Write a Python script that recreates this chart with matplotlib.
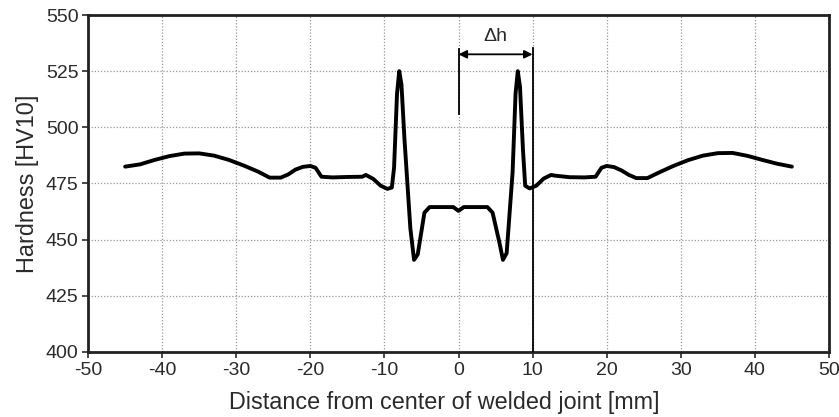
import matplotlib
matplotlib.use("Agg")
import matplotlib.pyplot as plt

plt.rcParams['font.family'] = ['Liberation Sans', 'DejaVu Sans']
plt.rcParams['axes.unicode_minus'] = False

# Hardness profile across welded joint
distance_mm = [-45, -43, -41, -39, -37, -35, -33, -31, -29, -27, -25.5, -24, -23, -22, -21, -20,
               -19.3, -18.5, -17, -15, -13, -12.5, -11.5, -10.5, -9.6, -9.0, -8.7, -8.3, -8.0,
               -7.7, -7.3, -6.5, -6.0, -5.5, -4.6, -3.9, -2.0, -0.7, 0.0,
               0.7, 2.0, 3.9, 4.6, 5.5, 6.0, 6.5, 7.3, 7.7, 8.0, 8.3, 8.7, 9.0, 9.6,
               10.5, 11.5, 12.5, 13, 15, 17, 18.5, 19.3, 20, 21, 22, 23, 24, 25.5, 27,
               29, 31, 33, 35, 37, 39, 41, 43, 45]
hardness_hv = [482.5, 483.5, 485.5, 487.2, 488.3, 488.4, 487.4, 485.5, 483.0, 480.2, 477.6, 477.6,
               479.0, 481.2, 482.4, 482.8, 482.0, 478.0, 477.7, 477.9, 478.0, 478.8, 477.0, 474.0,
               472.6, 473.2, 482.0, 515.0, 525.0, 519.0, 495.0, 455.0, 441.0, 443.5, 462.0,
               464.5, 464.5, 464.5, 462.8,
               464.5, 464.5, 464.5, 462.0, 449.0, 441.0, 444.0, 480.0, 515.0, 525.0, 518.0,
               490.0, 474.0, 472.8,
               474.0, 477.2, 478.8, 478.5, 477.8, 477.7, 478.0, 482.0, 482.8, 482.3, 480.8,
               478.8, 477.4, 477.4, 479.8, 482.8, 485.4, 487.4, 488.5, 488.6, 487.3, 485.5,
               483.8, 482.5]

x_ticks = [-50, -40, -30, -20, -10, 0, 10, 20, 30, 40, 50]
y_ticks = [400, 425, 450, 475, 500, 525, 550]

fig = plt.figure(figsize=(8.39, 4.17), dpi=100)
ax = fig.add_axes([0.105, 0.156, 0.883, 0.808])

ax.plot(distance_mm, hardness_hv, color='black', lw=2.8, solid_joinstyle='round',
        solid_capstyle='round', zorder=3)

ax.set_xlim(-50, 50)
ax.set_ylim(400, 550)
ax.set_xticks(x_ticks)
ax.set_yticks(y_ticks)
ax.grid(True, color='#999999', linestyle=(0, (1, 1.5)), lw=0.9)
for s in ax.spines.values():
    s.set_linewidth(2.0)
    s.set_color('#222222')
ax.tick_params(direction='out', length=4, width=1.2, labelsize=14, colors='#2a2a2a',
               pad=3)

ax.set_xlabel('Distance from center of welded joint [mm]', fontsize=16.8, color='#2a2a2a')
ax.xaxis.set_label_coords(0.481, -0.115)
ax.set_ylabel('Hardness [HV10]', fontsize=16.8, color='#2a2a2a', labelpad=5)

# Delta h annotation
ax.plot([0, 0], [506, 535], color='black', lw=1.3, zorder=4)
ax.plot([10, 10], [400, 535.5], color='black', lw=1.3, zorder=4)
ax.annotate('', xy=(0, 532.5), xytext=(10, 532.5),
            arrowprops=dict(arrowstyle='<|-|>', color='black', lw=1.3,
                            mutation_scale=12, shrinkA=0, shrinkB=0))
ax.text(5, 536.5, 'Δh', ha='center', va='bottom', fontsize=14, color='#2a2a2a')

fig.savefig('out.png', dpi=100)
